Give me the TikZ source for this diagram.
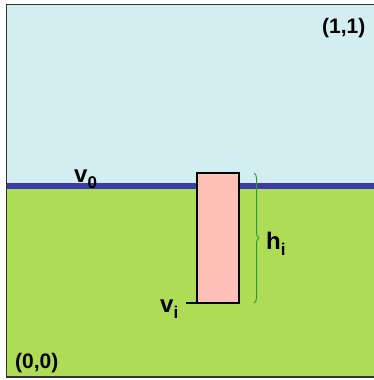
\documentclass[tikz,border=0pt]{standalone}
\usepackage{fontspec}
\setmainfont{Liberation Sans}
\usetikzlibrary{decorations.pathreplacing}
\definecolor{skyc}{HTML}{D2EEF0}
\definecolor{grassc}{HTML}{AEDC55}
\definecolor{linec}{HTML}{3B3BA6}
\definecolor{pillarc}{HTML}{FFC0B8}
\definecolor{bracec}{HTML}{2E9A2E}
\definecolor{framec}{HTML}{333333}
\tikzset{
  lbl/.style={inner sep=0pt, anchor=base west, font=\bfseries\fontsize{21}{21}\selectfont},
  varlbl/.style={inner sep=0pt, anchor=base west, font=\bfseries\fontsize{24}{24}\selectfont},
  pillar/.style={draw=black, line width=2pt, fill=pillarc, inner sep=0pt, outer sep=0pt},
}
\newcommand{\sbs}[1]{\raisebox{-6pt}{\fontsize{17}{17}\selectfont #1}}
\begin{document}
\begin{tikzpicture}[x=1pt,y=-1pt]
\useasboundingbox (0,0) rectangle (374,380);
\fill[white] (0,0) rectangle (374,380);
\fill[skyc] (6,4) rectangle (374,186);
\fill[grassc] (6,186) rectangle (374,378);
\draw[framec, line width=1.6pt] (374,4.5) -- (6.5,4.5) -- (6.5,377) -- (374,377);
\coordinate (lineL) at (7,186);
\coordinate (lineR) at (374,186);
\draw[linec, line width=6pt] (lineL) -- (lineR);
\node[pillar, minimum width=42pt, minimum height=130pt, anchor=north west] (p) at (197,173) {};
\coordinate (vitick) at (186,303);
\draw[black, line width=2pt] (vitick) -- (vitick -| p.west);
\draw[bracec, line width=1pt, decorate, decoration={brace, amplitude=5pt}]
  ([xshift=15pt]p.north east) -- ([xshift=15pt]p.south east);
\node[lbl] (c11) at (322,33) {(1,1)};
\node[lbl] (c00) at (15,368) {(0,0)};
\node[varlbl] (v0) at (74,182) {v\sbs{0}};
\node[varlbl] (vi) at (160,312) {v\sbs{i}};
\node[varlbl] (hi) at (266,249) {h\sbs{i}};
\end{tikzpicture}
\end{document}
